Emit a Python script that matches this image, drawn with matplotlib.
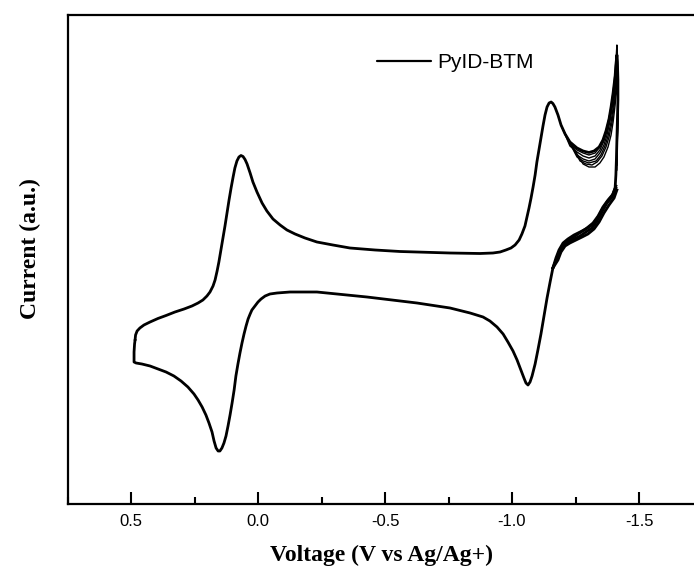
import matplotlib
matplotlib.use('Agg')
import matplotlib.pyplot as plt
from matplotlib.ticker import MultipleLocator

# ---- main CV cycle (voltage in V vs Ag/Ag+, current in a.u.) ----
cycle_v = [0.484, 0.482, 0.476, 0.465, 0.449, 0.425, 0.394, 0.362, 0.327, 0.291,
           0.260, 0.236, 0.217, 0.201, 0.189, 0.177, 0.169, 0.161, 0.154, 0.146,
           0.138, 0.130, 0.122, 0.114, 0.106, 0.098, 0.091, 0.083, 0.075, 0.067,
           0.059, 0.051, 0.043, 0.031, 0.020, 0.004, -0.016, -0.035, -0.059, -0.087,
           -0.114, -0.146, -0.185, -0.232, -0.295, -0.362, -0.461, -0.559, -0.756, -0.874,
           -0.925, -0.953, -0.976, -0.996, -1.012, -1.028, -1.039, -1.051, -1.059, -1.067,
           -1.075, -1.083, -1.091, -1.098, -1.106, -1.114, -1.122, -1.130, -1.138, -1.146,
           -1.154, -1.161, -1.169, -1.181, -1.193, -1.209, -1.228, -1.256, -1.280, -1.303,
           -1.323, -1.343, -1.358, -1.370, -1.382, -1.390, -1.398, -1.406, -1.409, -1.413,
           -1.415, -1.417, -1.417, -1.415, -1.413, -1.411, -1.409, -1.406, -1.394, -1.374,
           -1.354, -1.335, -1.315, -1.291, -1.268, -1.244, -1.220, -1.201, -1.185, -1.173,
           -1.161, -1.150, -1.138, -1.126, -1.114, -1.102, -1.091, -1.079, -1.071, -1.063,
           -1.055, -1.047, -1.035, -1.020, -1.004, -0.984, -0.965, -0.941, -0.913, -0.886,
           -0.835, -0.756, -0.626, -0.429, -0.232, -0.126, -0.075, -0.047, -0.028, -0.012,
           0.000, 0.012, 0.024, 0.031, 0.039, 0.047, 0.055, 0.063, 0.071, 0.079,
           0.087, 0.094, 0.102, 0.110, 0.118, 0.126, 0.134, 0.142, 0.150, 0.157,
           0.165, 0.173, 0.181, 0.193, 0.205, 0.220, 0.236, 0.252, 0.276, 0.303,
           0.331, 0.362, 0.394, 0.425, 0.457, 0.480, 0.488, 0.488, 0.486, 0.484]
cycle_i = [1.60, 1.65, 1.69, 1.72, 1.75, 1.78, 1.815, 1.845, 1.88, 1.91,
           1.94, 1.97, 2.00, 2.04, 2.08, 2.14, 2.20, 2.29, 2.38, 2.50,
           2.62, 2.74, 2.87, 3.00, 3.12, 3.23, 3.32, 3.39, 3.43, 3.445,
           3.435, 3.405, 3.36, 3.27, 3.18, 3.08, 2.97, 2.89, 2.81, 2.75,
           2.70, 2.66, 2.62, 2.58, 2.55, 2.52, 2.50, 2.485, 2.47, 2.465,
           2.47, 2.48, 2.50, 2.52, 2.55, 2.60, 2.66, 2.74, 2.83, 2.92,
           3.02, 3.13, 3.25, 3.38, 3.50, 3.62, 3.74, 3.85, 3.93, 3.97,
           3.98, 3.965, 3.93, 3.85, 3.75, 3.66, 3.58, 3.52, 3.49, 3.475,
           3.49, 3.53, 3.60, 3.69, 3.81, 3.93, 4.07, 4.24, 4.35, 4.45,
           4.38, 4.20, 4.00, 3.80, 3.60, 3.40, 3.25, 3.12, 3.04, 2.98,
           2.90, 2.81, 2.75, 2.71, 2.68, 2.65, 2.61, 2.57, 2.50, 2.42,
           2.32, 2.18, 2.02, 1.84, 1.66, 1.50, 1.36, 1.24, 1.18, 1.15,
           1.17, 1.22, 1.30, 1.40, 1.49, 1.58, 1.66, 1.73, 1.79, 1.83,
           1.87, 1.92, 1.97, 2.03, 2.08, 2.08, 2.07, 2.06, 2.04, 2.01,
           1.98, 1.94, 1.90, 1.86, 1.81, 1.74, 1.66, 1.57, 1.47, 1.36,
           1.24, 1.10, 0.97, 0.85, 0.74, 0.64, 0.57, 0.52, 0.49, 0.49,
           0.52, 0.59, 0.68, 0.77, 0.85, 0.93, 1.00, 1.06, 1.13, 1.19,
           1.24, 1.28, 1.31, 1.34, 1.36, 1.37, 1.38, 1.48, 1.56, 1.60]

# ---- later cycles: anodic edge near the switching potential ----
fan_v = [
    [-1.193, -1.228, -1.256, -1.280, -1.303, -1.327, -1.346, -1.362, -1.374, -1.386,
     -1.394, -1.402, -1.409, -1.413, -1.415, -1.417, -1.417, -1.415, -1.413],
    [-1.193, -1.228, -1.256, -1.280, -1.303, -1.327, -1.346, -1.362, -1.374, -1.386,
     -1.394, -1.402, -1.409, -1.413, -1.417, -1.417, -1.415, -1.413],
    [-1.201, -1.256, -1.280, -1.303, -1.327, -1.346, -1.362, -1.374, -1.386, -1.394,
     -1.402, -1.409, -1.413, -1.417, -1.417, -1.413],
    [-1.209, -1.256, -1.280, -1.303, -1.331, -1.350, -1.366, -1.378, -1.390, -1.398,
     -1.406, -1.413, -1.417, -1.417, -1.413],
    [-1.217, -1.268, -1.291, -1.315, -1.335, -1.354, -1.370, -1.382, -1.394, -1.402,
     -1.409, -1.413, -1.417, -1.415, -1.413],
    [-1.228, -1.280, -1.303, -1.327, -1.346, -1.362, -1.378, -1.390, -1.398, -1.406,
     -1.413, -1.417, -1.415, -1.413],
]
fan_i = [
    [3.75, 3.56, 3.50, 3.47, 3.45, 3.47, 3.53, 3.62, 3.73, 3.87,
     4.00, 4.17, 4.38, 4.55, 4.45, 4.25, 4.00, 3.70, 3.40],
    [3.75, 3.54, 3.48, 3.44, 3.42, 3.44, 3.50, 3.59, 3.69, 3.83,
     3.96, 4.11, 4.28, 4.37, 4.20, 3.95, 3.65, 3.35],
    [3.70, 3.45, 3.41, 3.39, 3.41, 3.47, 3.55, 3.65, 3.79, 3.92,
     4.06, 4.22, 4.32, 4.15, 3.90, 3.50],
    [3.66, 3.43, 3.39, 3.37, 3.39, 3.45, 3.54, 3.64, 3.78, 3.92,
     4.10, 4.28, 4.10, 3.85, 3.45],
    [3.62, 3.39, 3.36, 3.35, 3.38, 3.44, 3.53, 3.63, 3.78, 3.94,
     4.10, 4.22, 4.05, 3.70, 3.35],
    [3.58, 3.36, 3.33, 3.33, 3.37, 3.43, 3.53, 3.65, 3.78, 3.95,
     4.15, 4.00, 3.65, 3.30],
]

# ---- later cycles: return sweep near -1.3 V ----
ret_v = [
    [-1.409, -1.398, -1.378, -1.358, -1.339, -1.319, -1.295, -1.272, -1.248, -1.224,
     -1.205, -1.189, -1.177, -1.161],
    [-1.413, -1.402, -1.382, -1.362, -1.343, -1.323, -1.299, -1.276, -1.252, -1.228,
     -1.209, -1.193, -1.181, -1.161],
    [-1.409, -1.394, -1.374, -1.354, -1.335, -1.315, -1.291, -1.268, -1.244, -1.220,
     -1.201, -1.189, -1.161],
]
ret_i = [
    [3.14, 3.06, 3.00, 2.93, 2.84, 2.77, 2.72, 2.68, 2.64, 2.60, 2.56, 2.50, 2.42, 2.32],
    [3.10, 3.02, 2.95, 2.87, 2.78, 2.71, 2.66, 2.63, 2.60, 2.57, 2.54, 2.48, 2.40, 2.32],
    [3.12, 3.03, 2.97, 2.88, 2.79, 2.72, 2.68, 2.64, 2.61, 2.58, 2.54, 2.48, 2.32],
]

xticks = [0.5, 0.0, -0.5, -1.0, -1.5]
xticklabels = ['0.5', '0.0', '-0.5', '-1.0', '-1.5']

fig = plt.figure(figsize=(6.94, 5.76), dpi=100)
ax = fig.add_axes([67.5 / 694, 72 / 576, 635 / 694, 489 / 576])

ax.plot(cycle_v, cycle_i, color='black', lw=2.0, solid_joinstyle='round',
        solid_capstyle='round', label='PyID-BTM')
for v, i in zip(fan_v, fan_i):
    ax.plot(v, i, color='black', lw=1.0, solid_joinstyle='round')
for v, i in zip(ret_v, ret_i):
    ax.plot(v, i, color='black', lw=2.0, solid_joinstyle='round')

ax.set_xlim(0.75, -1.75)
ax.set_ylim(-0.04, 4.85)
ax.set_xticks(xticks)
ax.set_xticklabels(xticklabels, fontfamily='Liberation Sans')
ax.xaxis.set_minor_locator(MultipleLocator(0.25))
ax.set_yticks([])
ax.tick_params(axis='x', which='major', direction='in', length=9, width=1.5,
               labelsize=12, pad=7)
ax.tick_params(axis='x', which='minor', direction='in', length=5, width=1.5)
for s in ax.spines.values():
    s.set_linewidth(1.6)

ax.set_xlabel('Voltage (V vs Ag/Ag+)', fontfamily='Liberation Serif',
              fontweight='bold', fontsize=17, va='center')
ax.xaxis.set_label_coords(0.495, -0.106)
ax.set_ylabel('Current (a.u.)', fontfamily='Liberation Serif',
              fontweight='bold', fontsize=17, va='center', ha='center')
ax.yaxis.set_label_coords(-0.059, 0.523)

leg = ax.legend(loc='center left', bbox_to_anchor=(377 / 694, 1 - 63 / 576),
                bbox_transform=fig.transFigure, frameon=False, borderpad=0,
                borderaxespad=0, handlelength=2.6, handletextpad=0.3,
                prop={'family': 'Liberation Sans', 'size': 15})
for h in leg.get_lines():
    h.set_linewidth(1.6)

fig.savefig('out.png', dpi=100)
